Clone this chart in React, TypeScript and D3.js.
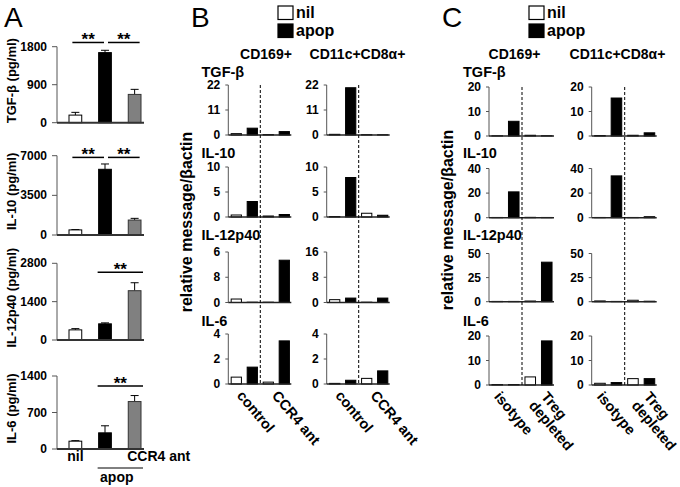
import React from "react";
import * as d3 from "d3";

// ---------- DATA ----------
const cytokines = ["TGF-β", "IL-10", "IL-12p40", "IL-6"];

// Panel A (pg/ml)
const aGroups = ["nil", "apop", "CCR4 ant"];
const aTitles = ["TGF-β (pg/ml)", "IL-10 (pg/ml)", "IL-12p40 (pg/ml)", "IL-6 (pg/ml)"];
const aMax = [1800, 7000, 2800, 1400];
const aTicks = [
  [0, 900, 1800],
  [0, 3500, 7000],
  [0, 1400, 2800],
  [0, 700, 1400],
];
const aTgfb = [180, 1660, 670];
const aTgfbErr = [65, 55, 120];
const aIl10 = [450, 5800, 1320];
const aIl10Err = [30, 470, 150];
const aIl12 = [370, 590, 1800];
const aIl12Err = [45, 35, 290];
const aIl6 = [150, 310, 910];
const aIl6Err = [10, 135, 115];
const aMeans = [aTgfb, aIl10, aIl12, aIl6];
const aErrs = [aTgfbErr, aIl10Err, aIl12Err, aIl6Err];
const aSigPairs = [
  [[0, 1], [1, 2]],
  [[0, 1], [1, 2]],
  [[1, 2]],
  [[1, 2]],
];
const aSigLevel = [1900, 6850, 2470, 1210];

// Panels B and C (relative message/βactin); order: nil, apop, nil, apop
const legendItems = ["nil", "apop"];
const cellTypes = ["CD169+", "CD11c+CD8α+"];
const bConditions = ["control", "CCR4 ant"];
const cConditions = ["isotype", "Treg depleted"];

const bMax = [22, 10, 16, 4];
const bTicks = [[0, 11, 22], [0, 5, 10], [0, 8, 16], [0, 2, 4]];
const bLeftTickLabels = [["0", "11", "22"], ["0", "5", "10"], ["0", "8", "6"], ["0", "2", "4"]];
const bRightTickLabels = [["0", "11", "22"], ["0", "5", "10"], ["0", "8", "16"], ["0", "2", "4"]];
const bCd169Tgfb = [0.6, 3.0, 0.2, 1.5];
const bCd169Il10 = [0.4, 3.1, 0.2, 0.5];
const bCd169Il12 = [1.1, 0.1, 0.1, 13.4];
const bCd169Il6 = [0.55, 1.35, 0.15, 3.45];
const bCd8Tgfb = [0.3, 20.8, 0.15, 0.1];
const bCd8Il10 = [0.1, 7.9, 0.75, 0.35];
const bCd8Il12 = [0.9, 1.4, 0.1, 1.4];
const bCd8Il6 = [0.05, 0.3, 0.45, 1.05];

const cMax = [20, 40, 50, 20];
const cTicks = [[0, 10, 20], [0, 20, 40], [0, 25, 50], [0, 10, 20]];
const cCd169Tgfb = [0.1, 6.0, 0.3, 0.1];
const cCd169Il10 = [0.2, 21, 0.3, 0.2];
const cCd169Il12 = [0.3, 0.3, 0.7, 41];
const cCd169Il6 = [0.2, 0.2, 3.3, 18];
const cCd8Tgfb = [0.2, 15.5, 0.3, 1.3];
const cCd8Il10 = [0.2, 34, 0.2, 0.8];
const cCd8Il12 = [0.8, 0.3, 1.5, 0.5];
const cCd8Il6 = [0.7, 1.0, 2.6, 2.6];

// ---------- LAYOUT ----------
const FONT = '"Liberation Sans", Arial, Helvetica, sans-serif';
const aTop = [46.7, 155.7, 263.3, 376];
const aBottom = [122.7, 235, 340, 449];
const aAxisX = 57;
const aAxisEnd = 144;

const bRowTop = [85, 167, 252, 334];
const bRowBottom = [135, 217, 302.5, 384];
const cRowTop = [87, 168.5, 253.5, 336];
const cRowBottom = [136, 217.7, 301.7, 385];
const rowLabelBase = [77, 158, 240, 325.5];

function PanelA() {
  const x = d3
    .scaleBand<string>()
    .domain(aGroups)
    .range([61, 149])
    .paddingInner(0.57)
    .paddingOuter(0.27);
  const bw = x.bandwidth();
  const fills = ["#ffffff", "#000000", "#808080"];
  const strokes = ["#000", "#000", "#333"];
  return (
    <g>
      <text x={4} y={27} fontSize={28} fontFamily={FONT}>A</text>
      {cytokines.map((c, i) => {
        const y = d3.scaleLinear().domain([0, aMax[i]]).range([aBottom[i], aTop[i]]);
        const mid = (aTop[i] + aBottom[i]) / 2 - 4;
        return (
          <g key={c}>
            <text
              transform={`translate(11,${mid}) rotate(-90)`}
              textAnchor="middle"
              dominantBaseline="central"
              fontSize={13}
              fontWeight="bold"
              fontFamily={FONT}
            >
              {aTitles[i]}
            </text>
            <line x1={aAxisX} x2={aAxisX} y1={aTop[i]} y2={aBottom[i]} stroke="#555" strokeWidth={1} />
            {aTicks[i].map((t) => (
              <g key={t}>
                <line x1={aAxisX - 5} x2={aAxisX} y1={y(t)} y2={y(t)} stroke="#555" strokeWidth={1} />
                <text
                  x={aAxisX - 10}
                  y={y(t)}
                  textAnchor="end"
                  dominantBaseline="central"
                  fontSize={12}
                  fontWeight="bold"
                  fontFamily={FONT}
                >
                  {t}
                </text>
              </g>
            ))}
            {aGroups.map((g, j) => {
              const v = aMeans[i][j];
              const e = aErrs[i][j];
              const cx = (x(g) as number) + bw / 2;
              return (
                <g key={g}>
                  <line x1={cx} x2={cx} y1={y(v)} y2={y(v + e)} stroke="#000" strokeWidth={1} />
                  <line x1={cx - 4} x2={cx + 4} y1={y(v + e)} y2={y(v + e)} stroke="#000" strokeWidth={1} />
                  <rect
                    x={x(g)}
                    y={y(v)}
                    width={bw}
                    height={aBottom[i] - y(v)}
                    fill={fills[j]}
                    stroke={strokes[j]}
                    strokeWidth={1}
                  />
                </g>
              );
            })}
            <line x1={aAxisX} x2={aAxisEnd} y1={aBottom[i]} y2={aBottom[i]} stroke="#333" strokeWidth={2} />
            {aSigPairs[i].map((p, k) => {
              const c0 = (x(aGroups[p[0]]) as number) + bw / 2;
              const c1 = (x(aGroups[p[1]]) as number) + bw / 2;
              const single = aSigPairs[i].length === 1;
              const x1 = single ? c0 - bw / 2 - 1 : k === 0 ? c0 - 3 : c0 + 3;
              const x2 = single ? c1 + bw / 2 + 2 : k === 0 ? c1 - 1 : c1 + 5;
              const ly = y(aSigLevel[i]);
              return (
                <g key={k}>
                  <line x1={x1} x2={x2} y1={ly} y2={ly} stroke="#000" strokeWidth={1.5} />
                  <text
                    x={(x1 + x2) / 2}
                    y={ly + 3}
                    textAnchor="middle"
                    fontSize={17}
                    fontWeight="bold"
                    fontFamily={FONT}
                  >
                    **
                  </text>
                </g>
              );
            })}
          </g>
        );
      })}
      {/* category labels */}
      <text
        x={(x("nil") as number) + bw / 2}
        y={461}
        textAnchor="middle"
        fontSize={14}
        fontWeight="bold"
        fontFamily={FONT}
      >
        nil
      </text>
      <text x={(x("CCR4 ant") as number) - 1} y={461} fontSize={14} fontWeight="bold" fontFamily={FONT}>
        CCR4 ant
      </text>
      <line
        x1={(x("apop") as number) - 1}
        x2={(x("CCR4 ant") as number) + bw + 2}
        y1={468}
        y2={468}
        stroke="#000"
        strokeWidth={1}
      />
      <text
        x={((x("apop") as number) + (x("CCR4 ant") as number) + bw) / 2 - 3}
        y={482}
        textAnchor="middle"
        fontSize={14}
        fontWeight="bold"
        fontFamily={FONT}
      >
        apop
      </text>
    </g>
  );
}

type SmallProps = {
  x0: number;
  w: number;
  top: number;
  bottom: number;
  max: number;
  ticks: number[];
  tickLabels: string[];
  values: number[];
};

function SmallChart({ x0, w, top, bottom, max, ticks, tickLabels, values }: SmallProps) {
  const idx = d3.range(values.length).map(String);
  const x = d3
    .scaleBand<string>()
    .domain(idx)
    .range([x0, x0 + w])
    .paddingInner(0.36)
    .paddingOuter(0.18);
  const y = d3.scaleLinear().domain([0, max]).range([bottom, top]);
  const bw = x.bandwidth();
  return (
    <g>
      <line x1={x0} x2={x0} y1={top} y2={bottom} stroke="#555" strokeWidth={1} />
      {ticks.map((t, k) => (
        <g key={t}>
          <line x1={x0 - 3} x2={x0} y1={y(t)} y2={y(t)} stroke="#555" strokeWidth={1} />
          <text
            x={x0 - 8}
            y={y(t)}
            textAnchor="end"
            dominantBaseline="central"
            fontSize={12}
            fontWeight="bold"
            fontFamily={FONT}
          >
            {tickLabels[k]}
          </text>
        </g>
      ))}
      {values.map((v, j) => (
        <rect
          key={j}
          x={x(String(j))}
          y={y(v)}
          width={bw}
          height={bottom - y(v)}
          fill={j % 2 === 0 ? "#fff" : "#000"}
          stroke="#000"
          strokeWidth={1}
        />
      ))}
      <line x1={x0} x2={x0 + w - 1} y1={bottom} y2={bottom} stroke="#222" strokeWidth={1.5} />
    </g>
  );
}

type PanelProps = {
  letter: string;
  letterX: number;
  axisX: number[];
  w: number;
  rowTop: number[];
  rowBottom: number[];
  max: number[];
  ticks: number[][];
  tickLabels: string[][][];
  values: number[][][];
  headerX: number[];
  legendX: number;
  rowLabelX: number;
  titleX: number;
  titleY: number;
  conditions: string[];
  labelDx: number[];
};

function RelPanel(p: PanelProps) {
  const dashTop = p.rowTop[0];
  const dashBottom = p.rowBottom[3] + 1;
  const band = d3.scaleBand<string>().domain(["0", "1", "2", "3"]).range([0, p.w]).paddingInner(0.36).paddingOuter(0.18);
  const bw = band.bandwidth();
  return (
    <g fontFamily={FONT}>
      <text x={p.letterX} y={27} fontSize={28}>{p.letter}</text>
      {/* legend */}
      {legendItems.map((l, i) => (
        <g key={l}>
          <rect
            x={p.legendX}
            y={i === 0 ? 6 : 24}
            width={15}
            height={13.5}
            fill={i === 0 ? "#fff" : "#000"}
            stroke="#000"
            strokeWidth={1.2}
          />
          <text x={p.legendX + 18} y={i === 0 ? 18 : 36} fontSize={16} fontWeight="bold">
            {l}
          </text>
        </g>
      ))}
      {cellTypes.map((ct, i) => (
        <text key={ct} x={p.headerX[i]} y={59} textAnchor="middle" fontSize={14} fontWeight="bold">
          {ct}
        </text>
      ))}
      {cytokines.map((c, i) => (
        <text key={c} x={p.rowLabelX} y={rowLabelBase[i]} fontSize={14.5} fontWeight="bold">
          {c}
        </text>
      ))}
      <text
        transform={`translate(${p.titleX},${p.titleY}) rotate(-90)`}
        textAnchor="middle"
        dominantBaseline="central"
        fontSize={16}
        fontWeight="bold"
      >
        relative message/βactin
      </text>
      {p.axisX.map((ax, col) => (
        <g key={col}>
          {cytokines.map((c, i) => (
            <SmallChart
              key={c}
              x0={ax}
              w={p.w}
              top={p.rowTop[i]}
              bottom={p.rowBottom[i]}
              max={p.max[i]}
              ticks={p.ticks[i]}
              tickLabels={p.tickLabels[col][i]}
              values={p.values[col][i]}
            />
          ))}
          <line
            x1={ax + p.w / 2}
            x2={ax + p.w / 2}
            y1={dashTop}
            y2={dashBottom}
            stroke="#000"
            strokeWidth={1}
            strokeDasharray="3,2"
          />
          {p.conditions.map((cond, k) => {
            const c0 = ax + (band(String(2 * k)) as number) + bw / 2;
            const c1 = ax + (band(String(2 * k + 1)) as number) + bw / 2;
            const cx = (c0 + c1) / 2 + p.labelDx[k];
            const cy = p.rowBottom[3] + 12;
            const lines = cond === "Treg depleted" ? ["Treg", "depleted"] : [cond];
            return (
              <text
                key={cond}
                transform={`translate(${cx},${cy}) rotate(50)`}
                fontSize={14.5}
                fontWeight="bold"
              >
                {lines.map((ln, li) => (
                  <tspan key={ln} x={li === 0 ? 0 : -1} dy={li === 0 ? 0 : 15}>
                    {ln}
                  </tspan>
                ))}
              </text>
            );
          })}
        </g>
      ))}
    </g>
  );
}

export default function App() {
  return (
    <svg
      width={680}
      height={487}
      viewBox="0 0 680 487"
      style={{ position: "absolute", left: 0, top: 0, background: "#fff" }}
    >
      <rect x={0} y={0} width={680} height={487} fill="#fff" />
      <PanelA />
      <RelPanel
        letter="B"
        letterX={191}
        axisX={[228.3, 326.7]}
        w={64}
        rowTop={bRowTop}
        rowBottom={bRowBottom}
        max={bMax}
        ticks={bTicks}
        tickLabels={[bLeftTickLabels, bRightTickLabels]}
        values={[
          [bCd169Tgfb, bCd169Il10, bCd169Il12, bCd169Il6],
          [bCd8Tgfb, bCd8Il10, bCd8Il12, bCd8Il6],
        ]}
        headerX={[266, 357.5]}
        legendX={278}
        rowLabelX={201.5}
        titleX={186}
        titleY={222}
        conditions={bConditions}
        labelDx={[-8, -5]}
      />
      <RelPanel
        letter="C"
        letterX={442}
        axisX={[489, 591.7]}
        w={66}
        rowTop={cRowTop}
        rowBottom={cRowBottom}
        max={cMax}
        ticks={cTicks}
        tickLabels={[
          cTicks.map((t) => t.map(String)),
          cTicks.map((t) => t.map(String)),
        ]}
        values={[
          [cCd169Tgfb, cCd169Il10, cCd169Il12, cCd169Il6],
          [cCd8Tgfb, cCd8Il10, cCd8Il12, cCd8Il6],
        ]}
        headerX={[514.5, 617.5]}
        legendX={529}
        rowLabelX={463}
        titleX={447}
        titleY={220}
        conditions={cConditions}
        labelDx={[-12, 2]}
      />
    </svg>
  );
}
